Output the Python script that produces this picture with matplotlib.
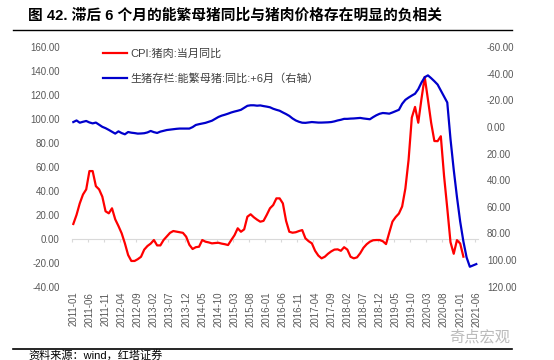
import matplotlib
matplotlib.use("Agg")  # sin display
import matplotlib.pyplot as plt
from matplotlib.lines import Line2D
from matplotlib.ticker import FuncFormatter
import numpy as np

# CPI:猪肉:当月同比, 2011-01 .. 2021-02 (%)
cpi_pork = [
    12.4, 20.0, 29.6, 37.0, 41.3, 56.6, 56.6, 44.0, 41.3, 35.2,
    23.0, 21.3, 25.5, 16.3, 10.7, 4.6, -3.8, -13.5, -18.5, -18.5,
    -17.0, -15.0, -9.0, -6.0, -4.0, -1.0, -5.5, -5.5, -1.0, 2.0,
    5.0, 6.5, 6.0, 5.5, 5.0, 1.8, -5.0, -8.5, -7.0, -6.6,
    -1.0, -2.4, -3.0, -3.8, -3.5, -3.3, -4.0, -4.5, -5.2, -1.0,
    3.0, 8.8, 5.9, 7.9, 18.5, 20.5, 18.0, 16.0, 14.3, 15.0,
    20.0, 25.5, 28.2, 33.8, 33.8, 29.6, 15.0, 5.9, 5.1, 5.5,
    6.5, 7.3, 0.4, -2.0, -3.8, -10.0, -14.0, -16.3, -15.0, -12.5,
    -10.5, -9.0, -8.8, -10.0, -7.0, -9.0, -15.0, -16.3, -15.5, -12.0,
    -7.5, -4.5, -2.4, -1.2, -1.0, -1.0, -2.0, -4.4, 5.1, 14.4,
    18.2, 21.1, 27.0, 42.0, 66.0, 101.3, 110.2, 97.0, 117.0, 135.2,
    116.4, 96.9, 81.7, 81.6, 85.7, 52.6, 25.5, -2.8, -12.5, -1.1,
    -3.9, -14.9,
]

# 生猪存栏:能繁母猪:同比, 前移6个月, 2011-01 .. 2021-06 (%)
sow_yoy = [
    -3.8, -5.0, -3.3, -4.0, -4.6, -3.5, -2.8, -3.4, -1.8, -0.2,
    0.8, 2.1, 3.5, 4.9, 3.2, 4.5, 5.4, 3.7, 4.2, 4.5,
    4.9, 4.8, 4.6, 4.0, 2.9, 3.8, 4.4, 3.4, 2.8, 2.2,
    1.9, 1.6, 1.3, 1.1, 1.1, 1.1, 1.1, 0.0, -1.6, -2.2,
    -2.7, -3.2, -4.0, -4.8, -6.2, -7.6, -8.6, -9.3, -10.1, -11.0,
    -11.7, -12.3, -13.0, -14.5, -16.0, -16.4, -16.4, -16.1, -16.3, -15.8,
    -15.4, -14.9, -13.8, -13.0, -12.3, -11.0, -9.8, -8.4, -6.5, -5.0,
    -4.0, -3.3, -3.2, -3.5, -3.8, -3.6, -3.4, -3.4, -3.5, -3.6,
    -3.8, -4.3, -5.0, -5.5, -6.2, -6.2, -6.4, -6.5, -6.7, -6.9,
    -6.5, -6.2, -5.9, -7.5, -8.9, -10.0, -10.6, -10.4, -10.1, -11.0,
    -12.0, -13.0, -17.5, -20.5, -22.2, -23.7, -25.1, -28.5, -33.5, -37.5,
    -38.9, -36.8, -34.5, -32.0, -27.5, -23.0, -18.5, 9.0, 32.0, 52.5,
    71.0, 86.0, 98.0, 105.0, 104.0, 103.0,
]

date_labels = [
    "2011-01", "2011-06", "2011-11", "2012-04", "2012-09", "2013-02",
    "2013-07", "2013-12", "2014-05", "2014-10", "2015-03", "2015-08",
    "2016-01", "2016-06", "2016-11", "2017-04", "2017-09", "2018-02",
    "2018-07", "2018-12", "2019-05", "2019-10", "2020-03", "2020-08",
    "2021-01", "2021-06",
]

W, H = 554, 360
GREY = "#595959"
RED = "#FF0000"
BLUE = "#0000CC"


def fx(px):
    return px / W


def fy(px):
    return 1 - px / H


plt.rcParams["font.family"] = ["Liberation Sans", "Noto Sans CJK SC", "DejaVu Sans"]

fig = plt.figure(figsize=(W / 100, H / 100), dpi=100)
ax = fig.add_axes([fx(71.7), fy(286.7), (477.9 - 71.7) / W, (286.7 - 47.3) / H])
ax2 = ax.twinx()

n_months = len(sow_yoy)
ax.plot(np.arange(len(cpi_pork)), cpi_pork, color=RED, lw=1.6, solid_joinstyle="round")
ax2.plot(np.arange(n_months), sow_yoy, color=BLUE, lw=1.6, solid_joinstyle="round")

ax.set_xlim(-0.5, n_months - 0.5)
ax.set_ylim(-40, 160)
ax.set_yticks(np.arange(-40, 161, 20))
ax2.set_ylim(120, -60)  # eje derecho invertido
ax2.set_yticks(np.arange(-60, 121, 20))

fmt = FuncFormatter(lambda v, _: f"{v:.2f}")
ax.yaxis.set_major_formatter(fmt)
ax2.yaxis.set_major_formatter(fmt)

for a in (ax, ax2):
    for s in a.spines.values():
        s.set_visible(False)

ax.tick_params(axis="y", length=0, pad=8.6, labelsize=7, labelcolor=GREY)
ax2.tick_params(axis="y", length=0, pad=6.5, labelsize=7, labelcolor=GREY)

ax.set_xticks(np.arange(0, n_months, 5))
ax.set_xticklabels(date_labels, rotation=90, fontsize=7, color=GREY)
ax.tick_params(axis="x", length=0, pad=3.6)

# eje de categorias dibujado en y=0
y0, y1 = ax.get_ylim()
zero_axis = ax.secondary_xaxis((0 - y0) / (y1 - y0))
zero_axis.set_xticks(np.arange(-0.5, n_months - 1, 5))
zero_axis.tick_params(length=2.5, width=0.8, color="#D9D9D9", labelbottom=False)
zero_axis.spines["bottom"].set_color("#D9D9D9")
zero_axis.spines["bottom"].set_linewidth(0.8)

handles = [Line2D([], [], color=RED, lw=1.6), Line2D([], [], color=BLUE, lw=1.6)]
labels = ["CPI:猪肉:当月同比", "生猪存栏:能繁母猪:同比:+6月（右轴）"]
ax2.legend(handles, labels, loc="upper left", bbox_to_anchor=(fx(103), fy(49)),
           bbox_transform=fig.transFigure, frameon=False, fontsize=8,
           handlelength=2.2, handletextpad=0.25, labelspacing=1.25,
           borderpad=0, borderaxespad=0, labelcolor="#404040")

fig.text(fx(28), fy(15), "图 42. 滞后 6 个月的能繁母猪同比与猪肉价格存在明显的负相关",
         fontsize=10.6, fontweight="bold", ha="left", va="center")
fig.add_artist(Line2D([fx(12.7), fx(511.7)], [fy(29.5), fy(29.5)],
                      transform=fig.transFigure, color="black", lw=1.0))
fig.add_artist(Line2D([fx(12.7), fx(511.7)], [fy(349), fy(349)],
                      transform=fig.transFigure, color="black", lw=1.2))
fig.text(fx(510), fy(337), "奇点宏观", fontsize=11, color="#BBBBBB", ha="right", va="center")
fig.text(fx(28), fy(355.5), "资料来源：wind，红塔证券", fontsize=8, ha="left", va="center")

fig.savefig("out.png", dpi=100)
plt.close(fig)
